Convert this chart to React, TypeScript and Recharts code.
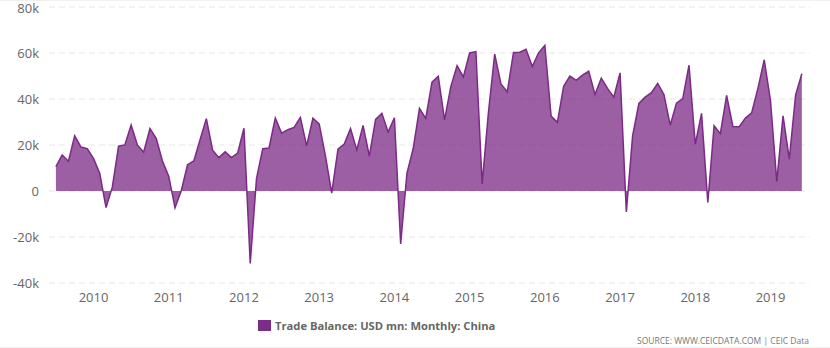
import React from 'react';
import { AreaChart, Area, XAxis, YAxis, CartesianGrid } from 'recharts';

// Monthly trade balance, Jul 2009 .. Jun 2019 (USD mn)
const startYear = 2009;
const startMonth = 7;

const balance = [
    10630, 15700, 12930, 23990, 19100, 18430,
    14170, 7610, -7240, 1680, 19530, 20020, 28730, 20030, 16880, 27150, 22890, 13080,
    6460, -7300, 140, 11430, 13050, 22270, 31480, 17760, 14510, 17030, 14530, 16520,
    27280, -31480, 5350, 18420, 18700, 31730, 25150, 26660, 27670, 31990, 19630, 31620,
    29150, 15250, -880, 18160, 20430, 27120, 17820, 28520, 15210, 31110, 33800, 25640,
    31860, -22980, 7710, 18460, 35920, 31560, 47300, 49840, 30940, 45410, 54470, 49610,
    60030, 60620, 3080, 34130, 59490, 46540, 43030, 60240, 60340, 61640, 54100, 60090,
    63290, 32590, 29860, 45560, 49980, 48110, 50350, 52050, 41990, 49060, 44610, 40820,
    51350, -9150, 23930, 38050, 40810, 42770, 46740, 41990, 28610, 38190, 40210, 54690,
    20340, 33740, -4980, 28380, 24920, 41610, 28050, 27910, 31690, 34010, 44740, 57060,
    39160, 4120, 32650, 13840, 41650, 50980,
];

const yTicks = [-40000, -20000, 0, 20000, 40000, 60000, 80000];
const yearTicks = [2010, 2011, 2012, 2013, 2014, 2015, 2016, 2017, 2018, 2019];

const data = balance.map((v, i) => ({ t: i, value: v }));
const monthIndex = (year: number) => (year - startYear) * 12 + (1 - startMonth);

const font = '"Open Sans", "DejaVu Sans", sans-serif';

export default function App() {
    return (
        <div style={{ position: 'absolute', left: 0, top: 0, width: 830, height: 348, background: '#fff', fontFamily: font }}>
            <div style={{ position: 'absolute', left: 0, top: 0, width: 830, height: 1, background: '#f0f0f0' }} />
            <AreaChart width={830} height={312} data={data} margin={{ top: 7, right: 20, left: 0, bottom: 0 }}>
                <CartesianGrid vertical={false} stroke="#e6e6e6" strokeDasharray="6 4" />
                <XAxis
                    dataKey="t"
                    type="number"
                    domain={[-1.1, 120.3]}
                    ticks={yearTicks.map(monthIndex)}
                    tickFormatter={(v: number) => String(startYear + Math.floor((v + startMonth - 1) / 12))}
                    axisLine={false}
                    tickLine={false}
                    height={29}
                    tickMargin={4}
                    tick={{ fill: '#666', fontSize: 13, fontFamily: font }}
                    allowDataOverflow
                />
                <YAxis
                    domain={[-40000, 80000]}
                    ticks={yTicks}
                    tickFormatter={(v: number) => (v === 0 ? '0' : `${v / 1000}k`)}
                    axisLine={false}
                    tickLine={false}
                    tickSize={0}
                    tickMargin={10}
                    width={49}
                    tick={{ fill: '#666', fontSize: 13, fontFamily: font }}
                />
                <Area
                    type="linear"
                    dataKey="value"
                    stroke="#7b2a86"
                    strokeWidth={1.5}
                    fill="#7b2a86"
                    fillOpacity={0.75}
                    isAnimationActive={false}
                    dot={false}
                    activeDot={false}
                />
            </AreaChart>
            <div style={{ position: 'absolute', left: 258, top: 318, display: 'flex', alignItems: 'center' }}>
                <span style={{ display: 'inline-block', width: 13, height: 11, background: '#7b2d87', marginRight: 4 }} />
                <span style={{ fontSize: 11.2, fontWeight: 'bold', color: '#666' }}>Trade Balance: USD mn: Monthly: China</span>
            </div>
            <div style={{ position: 'absolute', right: 21, top: 335, fontSize: 8.5, color: '#777' }}>
                SOURCE: WWW.CEICDATA.COM | CEIC Data
            </div>
            <div style={{ position: 'absolute', left: 0, top: 347, width: 830, height: 1, background: '#f0f0f0' }} />
        </div>
    );
}
